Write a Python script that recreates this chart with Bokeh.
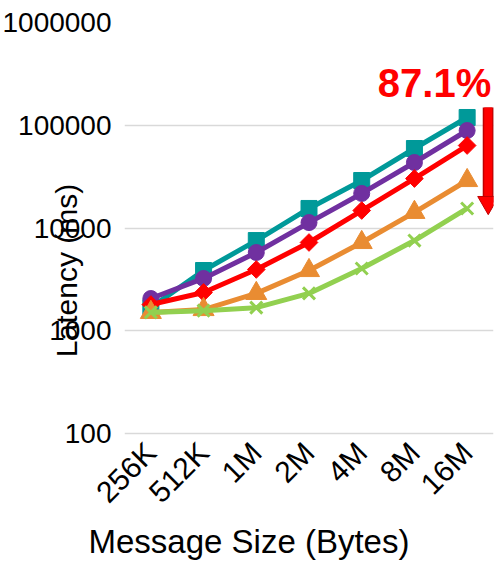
import math
from bokeh.plotting import figure
from bokeh.models import (ColumnDataSource, FactorRange, Range1d, FixedTicker,
                          NumeralTickFormatter, Label, Title)
from bokeh.transform import dodge
from bokeh.embed import file_html
from bokeh.resources import INLINE

# ---- data ----
sizes = ["256K", "512K", "1M", "2M", "4M", "8M", "16M"]
teal_vals = [1680, 3860, 7550, 15500, 29000, 59400, 119000]
purple_vals = [2060, 3230, 5780, 11300, 21700, 43400, 88900]
red_vals = [1800, 2360, 3950, 7230, 14800, 30300, 63500]
orange_vals = [1510, 1610, 2310, 3860, 7230, 14200, 29000]
green_vals = [1510, 1570, 1680, 2310, 4040, 7550, 15500]
y_ticks = [100, 1000, 10000, 100000, 1000000]
reduction_text = "87.1%"
arrow_x = ["16M"]
arrow_top = [149000]
arrow_head = [17700]

FONT = "Liberation Sans"

p = figure(width=498, height=566, x_range=FactorRange(*sizes),
           y_range=Range1d(14.9, 1000000), y_axis_type="log",
           output_backend="svg", toolbar_location=None,
           min_border_left=124, min_border_right=5, min_border_top=22,
           min_border_bottom=48)
p.outline_line_color = None
p.background_fill_color = "white"
p.border_fill_color = "white"

# axes
p.yaxis.ticker = FixedTicker(ticks=y_ticks)
p.yaxis.formatter = NumeralTickFormatter(format="0")
p.yaxis.axis_line_color = None
p.yaxis.major_tick_line_color = None
p.yaxis.minor_tick_line_color = None
p.yaxis.major_label_text_font = FONT
p.yaxis.major_label_text_font_size = "28px"
p.yaxis.major_label_text_color = "black"
p.yaxis.major_label_standoff = 7
p.yaxis.axis_label = "Latency (ms)"
p.yaxis.axis_label_text_font = FONT
p.yaxis.axis_label_text_font_size = "30px"
p.yaxis.axis_label_text_font_style = "normal"
p.yaxis.axis_label_text_color = "black"
p.yaxis.axis_label_standoff = -84

p.xaxis.axis_line_color = None
p.xaxis.major_tick_line_color = None
p.xaxis.minor_tick_line_color = None
p.xaxis.major_label_orientation = math.pi / 4
p.xaxis.major_label_text_font = FONT
p.xaxis.major_label_text_font_size = "30px"
p.xaxis.major_label_text_color = "black"
p.xaxis.major_label_standoff = -77

p.xgrid.grid_line_color = None
p.ygrid.grid_line_color = "#d9d9d9"
p.ygrid.grid_line_width = 1.5

src = ColumnDataSource(dict(x=sizes, teal=teal_vals, purple=purple_vals,
                            red=red_vals, orange=orange_vals, green=green_vals))

TEAL = "#009999"
PURPLE = "#7030A0"
RED = "#FF0000"
ORANGE = "#E98C32"
GREEN = "#92D050"

p.line("x", "teal", source=src, color=TEAL, line_width=5)
p.scatter("x", "teal", source=src, marker="square", size=16, color=TEAL)
p.line("x", "purple", source=src, color=PURPLE, line_width=5)
p.scatter("x", "purple", source=src, marker="circle", size=16, color=PURPLE)
p.line("x", "red", source=src, color=RED, line_width=5)
p.scatter("x", "red", source=src, marker="square", angle=math.pi / 4, size=12.5, color=RED)
p.line("x", "orange", source=src, color=ORANGE, line_width=5)
p.scatter("x", "orange", source=src, marker="triangle", size=21, color=ORANGE)
p.line("x", "green", source=src, color=GREEN, line_width=5)
p.scatter("x", "green", source=src, marker="x", size=17, line_color=GREEN, line_width=3)

# reduction arrow
asrc = ColumnDataSource(dict(x=arrow_x, top=arrow_top, head=arrow_head))
p.segment(x0=dodge("x", 0.45, range=p.x_range), y0="top",
          x1=dodge("x", 0.45, range=p.x_range), y1="head", source=asrc,
          line_color="#aaaaaa", line_alpha=0.5, line_width=11)
p.segment(x0=dodge("x", 0.4, range=p.x_range), y0="top",
          x1=dodge("x", 0.4, range=p.x_range), y1="head", source=asrc,
          line_color="#C00000", line_width=11)
p.segment(x0=dodge("x", 0.4, range=p.x_range), y0="top",
          x1=dodge("x", 0.4, range=p.x_range), y1="head", source=asrc,
          line_color=RED, line_width=8)
p.scatter(x=dodge("x", 0.4, range=p.x_range), y="head", source=asrc,
          marker="inverted_triangle", size=21, fill_color=RED, line_color="#C00000",
          line_width=1)

p.add_layout(Label(x=310, y=436, x_units="screen", y_units="screen",
                   text=reduction_text, text_font=FONT, text_font_size="40px",
                   text_font_style="bold", text_color=RED, text_align="center",
                   text_baseline="alphabetic"))

p.add_layout(Title(text="Message Size (Bytes)", align="left", offset=-36,
                   text_font=FONT, text_font_size="33px", text_font_style="normal",
                   text_color="black", standoff=-5), "below")

open("out.html", "w").write(file_html(p, INLINE))
